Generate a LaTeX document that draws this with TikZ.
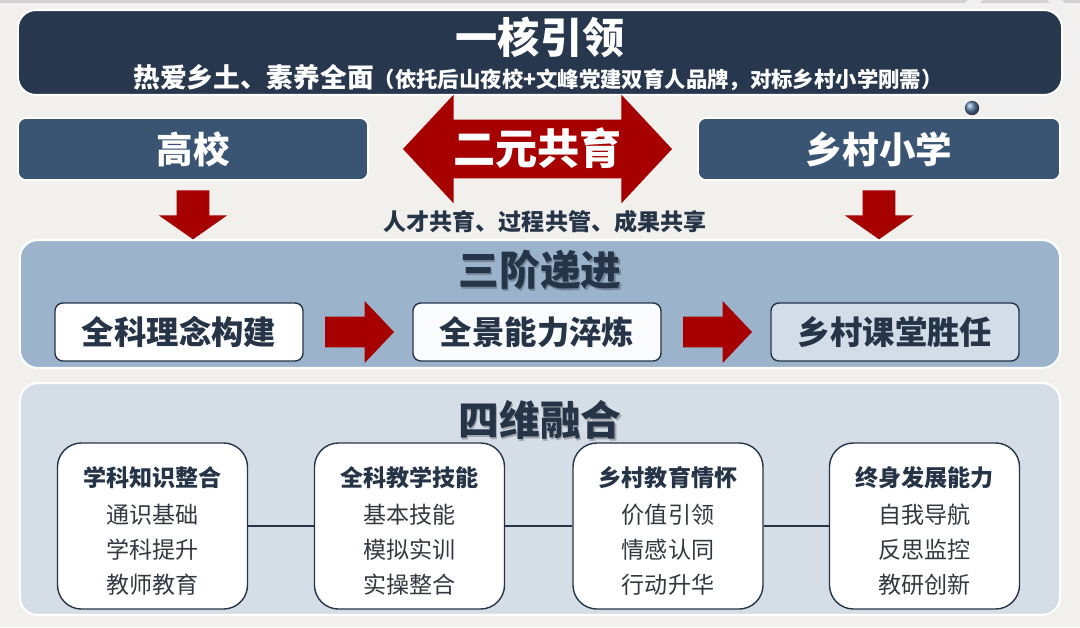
\documentclass[tikz,border=0pt]{standalone}
\usepackage{fontspec}
\setmainfont{Noto Sans CJK SC}
\usetikzlibrary{positioning,calc,shapes.arrows,shadows}
\definecolor{bgcol}{HTML}{F1F0ED}
\definecolor{navy}{HTML}{27374D}
\definecolor{steel}{HTML}{3A5473}
\definecolor{redarr}{HTML}{A60000}
\definecolor{midcol}{HTML}{9BB3CB}
\definecolor{lowcol}{HTML}{D5DEE7}
\definecolor{darktxt}{HTML}{253447}
\definecolor{itemtxt}{HTML}{333840}
\definecolor{ballcol}{HTML}{5D7EAA}

\begin{document}
\begin{tikzpicture}[x=0.025cm,y=-0.025cm,
  panel/.style={draw=white,line width=1.5pt,rounded corners=0.45cm,drop shadow={shadow xshift=0.4pt,shadow yshift=-0.8pt,opacity=0.2}},
  side/.style={draw=white,line width=1.2pt,fill=steel,rounded corners=0.2cm,minimum height=1.55cm,text=white,font=\fontsize{26}{30}\selectfont\bfseries},
  stage/.style={draw=darktxt,line width=1pt,rounded corners=0.2cm,minimum width=6.2cm,minimum height=1.45cm,text=darktxt,font=\fontsize{23}{27}\selectfont\bfseries},
  dimbox/.style={draw=darktxt,line width=1pt,fill=white,rounded corners=0.6cm,minimum width=4.75cm,minimum height=4.15cm},
  dimtxt/.style={align=center,text=itemtxt,font=\fontsize{16.4}{24.9}\selectfont},
  headline/.style={text=darktxt,font=\fontsize{29}{34}\selectfont\bfseries},
  hshadow/.style={text=black,opacity=0.25,font=\fontsize{29}{34}\selectfont\bfseries},
  downarr/.style={single arrow,fill=redarr,rotate=-90,anchor=tail,minimum height=1.225cm,inner xsep=0pt,inner ysep=0.4cm,single arrow head extend=0.45cm,single arrow tip angle=110},
  sarr/.style={single arrow,fill=redarr,anchor=tail,minimum height=1.725cm,inner xsep=0pt,inner ysep=0.375cm,single arrow head extend=0.39cm,single arrow tip angle=93}]
  \fill[bgcol] (0,0) rectangle (1080,627);
  \useasboundingbox (0,0) rectangle (1080,627);
  \fill[black!18] (0,0) rectangle (1080,3);
  \draw[black!6,line width=0.25cm] (1015,45) circle [radius=1.5cm];
  \shade[ball color=ballcol] (972,108) circle [radius=0.18cm];

  \node[panel,fill=navy,minimum width=26.1cm,minimum height=2.125cm] (core) at (540,52.5) {};
  \node[text=white,font=\fontsize{30}{34}\selectfont\bfseries] (coreT) at (540,37) {一核引领};
  \node[text=white,font=\bfseries] (coreS) at (538,78) {{\fontsize{19}{22}\selectfont 热爱乡土、素养全面}{\fontsize{15.2}{18}\selectfont （依托后山夜校+文峰党建双育人品牌，对标乡村小学刚需）}};

  \node[side,minimum width=8.75cm] (gx) at (193,149) {高校};
  \node[side,minimum width=9.05cm] (xx) at (879,149) {乡村小学};
  \node[double arrow,fill=redarr,minimum height=6.725cm,inner xsep=0pt,inner ysep=0pt,text height=32pt,text depth=9.3pt,double arrow head extend=0.625cm,double arrow tip angle=94,text=white,font=\fontsize{30}{34}\selectfont\bfseries] (gy) at (537.5,149) {二元共育};
  \node[text=darktxt,font=\fontsize{16.4}{20}\selectfont\bfseries] (gyS) at (545,222) {人才共育、过程共管、成果共享};

  \node[panel,fill=midcol,minimum width=26cm,minimum height=3.2cm] (mid) at (540,304) {};
  \node[downarr] (d1) at (gx.south |- 0,190) {};
  \node[downarr] (d2) at (xx.south |- 0,190) {};
  \node[hshadow] (midS) at (541.5,271.5) {三阶递进};
  \node[headline] (midT) at (540,270) {三阶递进};
  \node[stage,fill=white] (s1) at (179,332) {全科理念构建};
  \node[stage,fill=white!95!midcol] (s2) at (537,332) {全景能力淬炼};
  \node[stage,fill=midcol!45!white] (s3) at (895,332) {乡村课堂胜任};
  \node[sarr] (a1) at ($(s1.east)+(21,0)$) {};
  \node[sarr] (a2) at ($(s2.east)+(21,0)$) {};

  \node[panel,fill=lowcol,minimum width=26cm,minimum height=5.8cm] (low) at (540,499) {};
  \node[hshadow] (lowS) at (541.5,421.5) {四维融合};
  \node[headline] (lowT) at (540,420) {四维融合};
  \node[dimbox] (f1) at (152.5,526) {};
  \node[dimbox] (f2) at (409.5,526) {};
  \node[dimbox] (f3) at (668,526) {};
  \node[dimbox] (f4) at (924.5,526) {};
  \draw[darktxt,line width=1pt] (f1) -- (f2);
  \draw[darktxt,line width=1pt] (f2) -- (f3);
  \draw[darktxt,line width=1pt] (f3) -- (f4);
  \node[dimtxt] (f1t) at (152.5,531) {\textbf{\color{darktxt}学科知识整合}\\[1.4pt]通识基础\\学科提升\\教师教育};
  \node[dimtxt] (f2t) at (409.5,531) {\textbf{\color{darktxt}全科教学技能}\\[1.4pt]基本技能\\模拟实训\\实操整合};
  \node[dimtxt] (f3t) at (668,531) {\textbf{\color{darktxt}乡村教育情怀}\\[1.4pt]价值引领\\情感认同\\行动升华};
  \node[dimtxt] (f4t) at (924.5,531) {\textbf{\color{darktxt}终身发展能力}\\[1.4pt]自我导航\\反思监控\\教研创新};
\end{tikzpicture}
\end{document}
